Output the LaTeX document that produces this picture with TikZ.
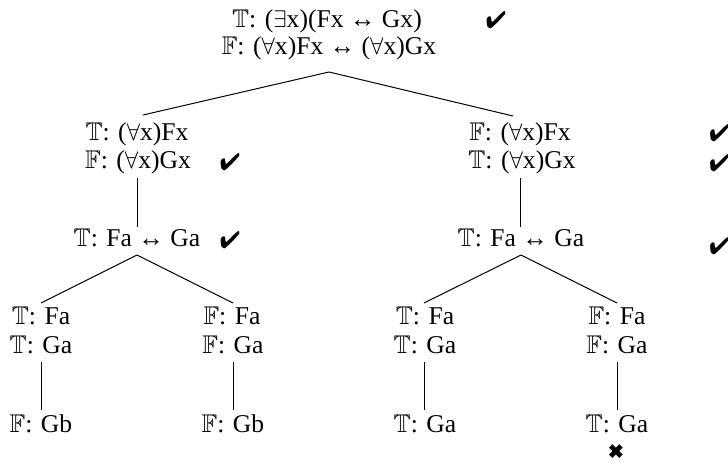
\documentclass[tikz,border=0pt]{standalone}
\usepackage{amssymb}
\usepackage{pifont}
\usepackage{fontspec}
\setmainfont{Liberation Serif}
\usetikzlibrary{calc}
\newcommand{\arr}{↔}
\newcommand{\TT}{$\mathbb{T}$}
\newcommand{\FF}{$\mathbb{F}$}
\begin{document}
\begin{tikzpicture}[x=0.5pt,y=-0.5pt,
  lab/.style={anchor=base,inner sep=0pt,font=\fontsize{12.8}{14}\selectfont},
  chk/.style={inner sep=0pt,font=\fontsize{12}{14}\selectfont},
  edge/.style={line width=0.5pt}]
\useasboundingbox (0,0) rectangle (728,464);
% root
\node[lab] (r1) at (327,28) {\TT: ($\exists$x)(Fx \arr\ Gx)};
\node[lab] (r2) at (329,55) {\FF: ($\forall$x)Fx \arr\ ($\forall$x)Gx};
\node[chk] (rc) at (496,20) {\ding{52}};
% left branch
\node[lab] (l1) at (137,141) {\TT: ($\forall$x)Fx};
\node[lab] (l2) at (138,169) {\FF: ($\forall$x)Gx};
\node[chk] (lc2) at (230,162) {\ding{52}};
\node[lab] (l3) at (137,247) {\TT: Fa \arr\ Ga};
\node[chk] (lc3) at (230,240) {\ding{52}};
% right branch
\node[lab] (m1) at (520,141) {\FF: ($\forall$x)Fx};
\node[lab] (m2) at (522,169) {\TT: ($\forall$x)Gx};
\node[chk,anchor=west] (mc1) at (709,133) {\ding{52}};
\node[chk,anchor=west] (mc2) at (709,163) {\ding{52}};
\node[lab] (m3) at (521,247) {\TT: Fa \arr\ Ga};
\node[chk,anchor=west] (mc3) at (709,246) {\ding{52}};
% level 3
\node[lab] (a1) at (41,325) {\TT: Fa};
\node[lab] (a2) at (41,354) {\TT: Ga};
\node[lab] (a3) at (41,432) {\FF: Gb};
\node[lab] (b1) at (232,325) {\FF: Fa};
\node[lab] (b2) at (233,354) {\FF: Ga};
\node[lab] (b3) at (233,432) {\FF: Gb};
\node[lab] (c1) at (425,325) {\TT: Fa};
\node[lab] (c2) at (425,354) {\TT: Ga};
\node[lab] (c3) at (425,432) {\TT: Ga};
\node[lab] (d1) at (617,325) {\FF: Fa};
\node[lab] (d2) at (617,354) {\FF: Ga};
\node[lab] (d3) at (617,432) {\TT: Ga};
\node[chk,font=\fontsize{10}{12}\selectfont] (dx) at (616,452) {\ding{54}};
% connectors
\draw[edge] ($(r2.base)+(0,17)$) -- ($(l1.base)+(6,-26)$);
\draw[edge] ($(r2.base)+(0,17)$) -- ($(m1.base)+(-7,-25)$);
\draw[edge] ($(l2.base)+(-1,9)$) -- ($(l3.base)+(0,-20)$);
\draw[edge] ($(m2.base)+(-2,9)$) -- ($(m3.base)+(-1,-20)$);
\draw[edge] ($(l3.base)+(0,8)$) -- ($(a1.base)+(0,-22)$);
\draw[edge] ($(l3.base)+(0,8)$) -- ($(b1.base)+(1,-22)$);
\draw[edge] ($(m3.base)+(0,8)$) -- ($(c1.base)+(-1,-22)$);
\draw[edge] ($(m3.base)+(0,8)$) -- ($(d1.base)+(0,-22)$);
\draw[edge] ($(a2.base)+(0,8)$) -- ($(a3.base)+(0,-22)$);
\draw[edge] ($(b2.base)+(0,8)$) -- ($(b3.base)+(0,-22)$);
\draw[edge] ($(c2.base)+(-1,8)$) -- ($(c3.base)+(-1,-22)$);
\draw[edge] ($(d2.base)+(0,8)$) -- ($(d3.base)+(0,-22)$);
\end{tikzpicture}
\end{document}
